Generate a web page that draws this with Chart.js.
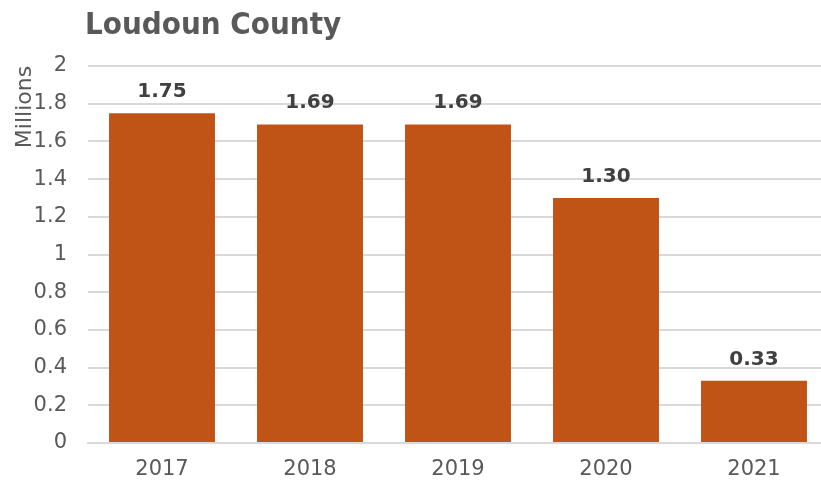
<!DOCTYPE html>
<html>
<head>
<meta charset="utf-8">
<script src="https://cdn.jsdelivr.net/npm/chart.js@4.4.1/dist/chart.umd.min.js"></script>
<style>
  html, body { margin: 0; padding: 0; background: #fff; overflow: hidden; }
  canvas { display: block; }
</style>
</head>
<body>
<canvas id="grafico" width="828" height="483"></canvas>
<script>
// dados do gráfico
const titulo = 'Loudoun County';
const unidade = 'Millions';
const anos = ['2017', '2018', '2019', '2020', '2021'];
const valores = [1.75, 1.69, 1.69, 1.30, 0.33];

const corBarra = '#c05417';
const corTexto = '#595959';
const corGrade = '#d9d9d9';

// desenha título, rótulo "Millions" e valores acima das barras
const extras = {
    id: 'extras',
    afterDatasetsDraw(chart) {
        const ctx = chart.ctx;
        ctx.save();

        ctx.fillStyle = corTexto;
        ctx.font = "bold 31px 'DejaVu Sans Condensed', 'Liberation Sans Narrow', sans-serif";
        ctx.textAlign = 'left';
        ctx.textBaseline = 'alphabetic';
        ctx.fillText(titulo, 85, 34);

        ctx.font = "22px 'DejaVu Sans', sans-serif";
        ctx.translate(31, 107);
        ctx.rotate(-Math.PI / 2);
        ctx.textAlign = 'center';
        ctx.fillText(unidade, 0, 0);
        ctx.restore();

        ctx.save();
        ctx.fillStyle = '#404040';
        ctx.font = "bold 20px 'DejaVu Sans', sans-serif";
        ctx.textAlign = 'center';
        ctx.textBaseline = 'alphabetic';
        const meta = chart.getDatasetMeta(0);
        meta.data.forEach((bar, i) => {
            ctx.fillText(valores[i].toFixed(2), bar.x, bar.y - 16);
        });
        ctx.restore();
    }
};

const ctx = document.getElementById('grafico').getContext('2d');
window.grafico = new Chart(ctx, {
    type: 'bar',
    data: {
        labels: anos,
        datasets: [{
            data: valores,
            backgroundColor: corBarra,
            borderWidth: 0,
            categoryPercentage: 1,
            barPercentage: 0.716
        }]
    },
    options: {
        responsive: false,
        animation: false,
        layout: { padding: { top: 66, left: 0, right: 0, bottom: 0 } },
        plugins: {
            legend: { display: false },
            tooltip: { enabled: false }
        },
        scales: {
            x: {
                grid: { display: false, drawTicks: false },
                border: { display: true, color: corGrade, width: 2 },
                ticks: {
                    color: corTexto,
                    padding: 14,
                    autoSkip: false,
                    maxRotation: 0,
                    font: { family: "'DejaVu Sans', sans-serif", size: 21 }
                },
                afterFit(scale) { scale.height = 40; }
            },
            y: {
                min: 0,
                max: 2,
                grid: { color: corGrade, lineWidth: 2, drawTicks: false },
                border: { display: false },
                ticks: {
                    stepSize: 0.2,
                    color: corTexto,
                    padding: 21,
                    autoSkip: false,
                    font: { family: "'DejaVu Sans', sans-serif", size: 21 },
                    callback: v => String(Math.round(v * 10) / 10)
                },
                afterFit(scale) { scale.width = 88; }
            }
        }
    },
    plugins: [extras]
});
</script>
</body>
</html>
